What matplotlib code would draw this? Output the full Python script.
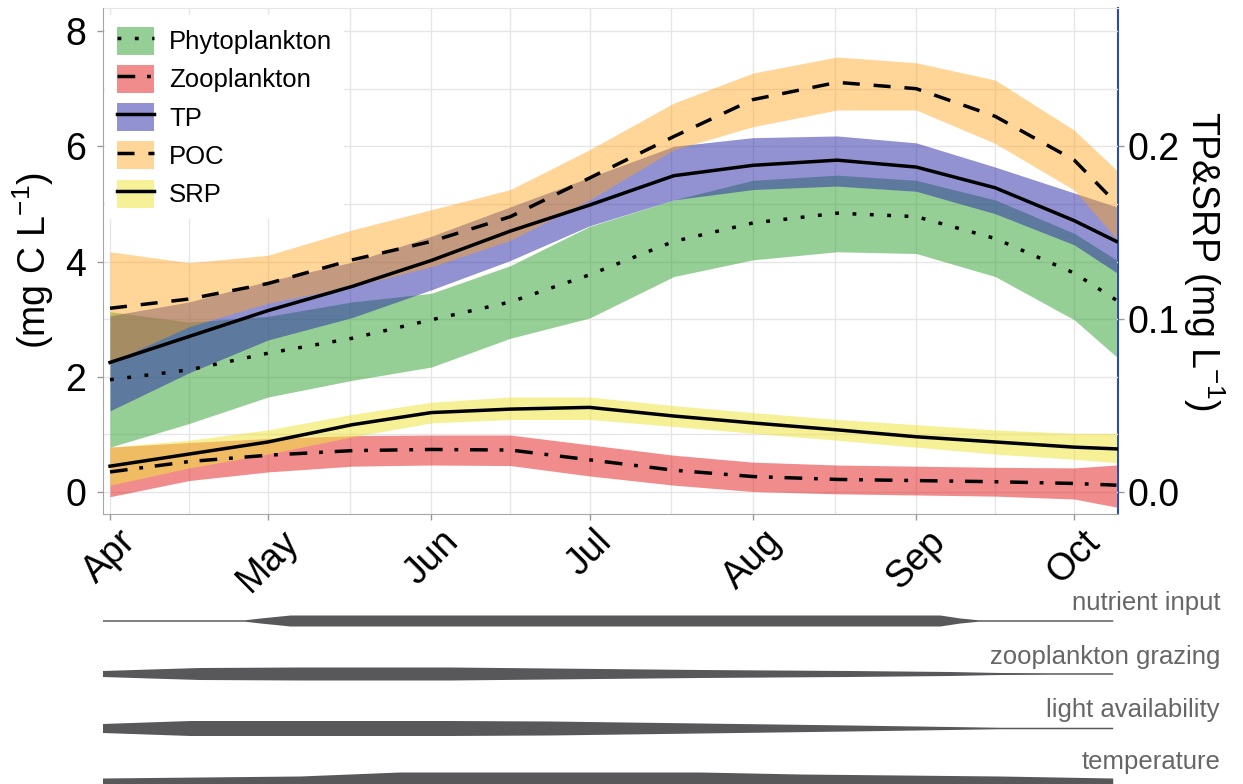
import numpy as np
import matplotlib.pyplot as plt
from matplotlib.patches import Patch
from matplotlib.lines import Line2D

plt.rcParams['font.family'] = ['Liberation Sans', 'DejaVu Sans']
plt.rcParams['mathtext.fontset'] = 'custom'
plt.rcParams['mathtext.rm'] = 'Liberation Sans'
plt.rcParams['mathtext.it'] = 'Liberation Sans:italic'

# days since 1 April
days = [0, 15, 30, 46, 61, 76, 91, 107, 122, 138, 153, 168, 183, 191]
month_days = [0, 30, 61, 91, 122, 153, 183]
month_labels = ['Apr', 'May', 'Jun', 'Jul', 'Aug', 'Sep', 'Oct']
mid_month_days = [15, 45.5, 76, 106.5, 137.5, 168]

# left axis, mg C L-1
phyto_mean = [1.95, 2.12, 2.41, 2.67, 2.99, 3.30, 3.77, 4.35, 4.67, 4.84, 4.78, 4.40, 3.80, 3.33]
phyto_lo = [0.78, 1.19, 1.65, 1.94, 2.17, 2.67, 3.02, 3.74, 4.03, 4.17, 4.14, 3.74, 2.99, 2.35]
phyto_hi = [3.13, 2.95, 3.05, 3.30, 3.45, 3.93, 4.61, 5.07, 5.41, 5.50, 5.41, 5.07, 4.49, 4.03]

zoo_mean = [0.35, 0.53, 0.64, 0.72, 0.74, 0.73, 0.56, 0.38, 0.27, 0.22, 0.20, 0.18, 0.15, 0.12]
zoo_lo = [-0.08, 0.20, 0.35, 0.45, 0.47, 0.46, 0.28, 0.12, 0.01, -0.03, -0.05, -0.07, -0.12, -0.26]
zoo_hi = [0.78, 0.86, 0.93, 0.98, 0.99, 0.99, 0.82, 0.64, 0.52, 0.47, 0.45, 0.43, 0.42, 0.47]

poc_mean = [3.19, 3.35, 3.62, 4.03, 4.35, 4.78, 5.45, 6.17, 6.81, 7.11, 7.00, 6.52, 5.76, 5.01]
poc_lo = [2.25, 2.87, 3.28, 3.57, 3.91, 4.37, 5.07, 5.94, 6.34, 6.63, 6.63, 6.05, 5.24, 4.40]
poc_hi = [4.17, 3.98, 4.11, 4.55, 4.90, 5.25, 5.94, 6.75, 7.27, 7.55, 7.45, 7.15, 6.28, 5.59]

# right axis, mg L-1
tp_mean = [0.075, 0.090, 0.105, 0.119, 0.134, 0.151, 0.166, 0.183, 0.189, 0.192, 0.188, 0.176, 0.157, 0.145]
tp_lo = [0.047, 0.069, 0.088, 0.101, 0.117, 0.134, 0.154, 0.169, 0.175, 0.177, 0.174, 0.161, 0.143, 0.127]
tp_hi = [0.102, 0.110, 0.122, 0.133, 0.148, 0.165, 0.182, 0.200, 0.205, 0.206, 0.202, 0.188, 0.173, 0.165]

srp_mean = [0.015, 0.022, 0.029, 0.039, 0.046, 0.048, 0.049, 0.044, 0.040, 0.036, 0.032, 0.029, 0.026, 0.025]
srp_lo = [0.004, 0.014, 0.022, 0.032, 0.040, 0.042, 0.042, 0.038, 0.034, 0.030, 0.026, 0.022, 0.019, 0.017]
srp_hi = [0.026, 0.030, 0.036, 0.045, 0.052, 0.055, 0.055, 0.050, 0.046, 0.042, 0.039, 0.036, 0.034, 0.034]

SEC = 30.0  # left units per right unit

# drivers shown under the chart (relative strength)
nutrient_days = [-1.5, 25.6, 28.5, 34.2, 157.5, 161.3, 164.7, 190.3]
nutrient_width = [1.5, 1.5, 5, 11, 11, 5, 1.5, 1.5]
grazing_days = [-1.5, 7.6, 17, 36, 64.5, 93, 112, 140.4, 159.4, 168.9, 178.4, 190.3]
grazing_width = [6, 9, 12, 13, 13, 10, 8, 6, 4, 2, 1.5, 1.5]
light_days = [-1.5, 15.2, 64.5, 83.5, 112, 140.4, 159.4, 168.9, 190.3]
light_width = [9, 15, 15, 14, 10, 6, 3, 1.5, 1.5]
temp_days = [-1.5, 36, 55, 112, 131, 168.9, 190.3]
temp_width = [18, 22, 30, 30, 26, 22, 18]

fig = plt.figure(figsize=(12.43, 7.84), dpi=100)
ax = fig.add_axes([103 / 1243, 1 - 514 / 784, 1015 / 1243, 506 / 784])

d = np.array(days)
series = [
    ('Phytoplankton', phyto_mean, phyto_lo, phyto_hi, 1, '#2ca02c', 0.5, (0, (1.1, 3.9))),
    ('Zooplankton', zoo_mean, zoo_lo, zoo_hi, 1, '#e41a1c', 0.5, (0, (5.1, 3.4, 1.1, 3.4))),
    ('TP', tp_mean, tp_lo, tp_hi, SEC, '#2626a8', 0.5, '-'),
    ('POC', poc_mean, poc_lo, poc_hi, 1, '#ffa41a', 0.45, (0, (4.9, 4.0))),
    ('SRP', srp_mean, srp_lo, srp_hi, SEC, '#f0e442', 0.55, '-'),
]
handles = []
for name, m, lo, hi, k, col, a, ls in series:
    ax.fill_between(d, np.array(lo) * k, np.array(hi) * k, color=col, alpha=a, lw=0)
    ax.plot(d, np.array(m) * k, color='black', lw=2.5, ls=ls)
    handles.append((Patch(facecolor=col, alpha=a, lw=0),
                    Line2D([0], [0], color='black', lw=2.5, ls=ls)))

ax.set_xlim(-1.33, 191.3)
ax.set_ylim(-0.38, 8.40)
ax.set_axisbelow(True)
ax.set_xticks(month_days)
ax.set_xticklabels(month_labels, rotation=45, ha='center', va='top')
ax.set_xticks(mid_month_days, minor=True)
ax.set_yticks([0, 2, 4, 6, 8])
ax.set_yticks([1, 3, 5, 7], minor=True)
ax.grid(which='both', color='#e6e6e6', lw=1)
ax.tick_params(which='major', length=4, width=1, color='#999999', labelsize=27, pad=3)
ax.tick_params(axis='y', which='major', pad=8)
ax.tick_params(which='minor', length=0)
ax.set_ylabel(r'(mg C L$^{-1}$)', fontsize=27, labelpad=7)

for s in ['left', 'bottom']:
    ax.spines[s].set_color('#a6a6a6')
    ax.spines[s].set_zorder(6)
ax.spines['top'].set_color('#e6e6e6')
ax.spines['right'].set_visible(False)

sec = ax.secondary_yaxis('right', functions=(lambda v: v / SEC, lambda v: v * SEC))
sec.set_yticks([0, 0.1, 0.2])
sec.set_yticklabels(['0.0', '0.1', '0.2'])
sec.tick_params(length=4, width=1, color='#999999', labelsize=27, pad=3)
sec.spines['right'].set_color('#2b4ea8')
sec.spines['right'].set_linewidth(1.5)
sec.set_ylabel(r'TP&SRP (mg L$^{-1}$)', rotation=270, va='bottom', fontsize=27, labelpad=1)

ax.legend(handles, [s[0] for s in series], loc='upper left',
          bbox_to_anchor=(2 / 1015, 1 - 7 / 506),
          borderaxespad=0, fontsize=18.5, handlelength=1.45, handleheight=1.3,
          labelspacing=0.4, handletextpad=0.6, borderpad=0.45, frameon=True,
          framealpha=1, edgecolor='none', fancybox=False)

# driver strips
bx = fig.add_axes([103 / 1243, 0, 1015 / 1243, 194 / 784])
bx.set_xlim(ax.get_xlim())
bx.set_ylim(784, 590)
bx.axis('off')
drivers = [
    ('nutrient input', nutrient_days, nutrient_width, 620.5, 603),
    ('zooplankton grazing', grazing_days, grazing_width, 673.5, 657),
    ('light availability', light_days, light_width, 728, 710),
    ('temperature', temp_days, temp_width, 787, 762),
]
for label, xd, w, yc, ty in drivers:
    w = np.array(w) / 2
    bx.fill_between(xd, yc - w, yc + w, color='#58585a', lw=0)
    fig.text(1220 / 1243, 1 - ty / 784, label, ha='right', va='center',
             fontsize=18.5, color='#666666')

fig.savefig('out.png', dpi=100)
